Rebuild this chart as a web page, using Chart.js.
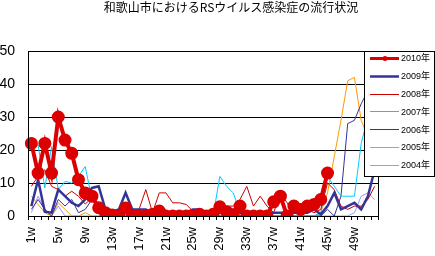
<!DOCTYPE html>
<html>
<head>
<meta charset="utf-8">
<script src="https://cdn.jsdelivr.net/npm/chart.js@4.4.0/dist/chart.umd.min.js"></script>
<style>
  html, body { margin: 0; padding: 0; background: #fff; }
  #wrap { width: 435px; height: 256px; }
</style>
</head>
<body>
<div id="wrap"><canvas id="rsChart" width="435" height="256"></canvas></div>
<script>
"use strict";

// week labels 1w .. 52w
const weeks = Array.from({ length: 52 }, (_, i) => `${i + 1}w`);

const y2010 = [22, 13, 22, 13, 30, 23, 19, 11, 7, 6, 2.5, 1, 0.3, 0, 2.4, 0,
  0, 0, 0.5, 1.5, 0, 0, 0, 0, 0, 0.5, 0, 0.5, 2.8, 1.3, 0.3, 3, 0, 0, 0, 0,
  4.3, 6, 0, 3, 2, 3, 3.5, 5, 13, null, null, null, null, null, null, null];
const y2009 = [3, 11, 1.3, 1, 8, 6, 4, 3, 5, 8.5, 9, 2, 1.3, 2, 7, 2,
  2, 2, 1, 1, 1, 1, 1, 1, 2, 2, 1, 1, 1, 1, 2, 1, 1, 1, 1, 1,
  1, 1, 1, 1, 1, 1, 2, 0.5, 3, 7, 2, 3, 4, 2, 6, 14];
const y2008 = [9, 12, 14, 9, 8, 6, 7.5, 6, 3.6, 5.5, 3, 1.3, 0, 0, 0, 1,
  2, 8, 1, 7, 7, 4, 4, 3.5, 1.5, 0.5, 0, 2, 3, 3, 3, 5, 9, 3, 6, 3,
  1, 7, 4, 1, 1, 2, 1, 2, 10, 8, 3, 2, 3, 3, 5, 9];
const y2007 = [22, 21.5, 8.5, 21, 8, 10.5, 10, 12, 15, 5, 4, 1, 1, 0, 1, 0,
  0, 0, 0, 0, 0, 0, 0, 0, 0, 0, 0, 0, 12, 9, 7, 1, 0, 0, 0, 0,
  0, 0, 0, 0, 0, 0, 0, 1, 12, 9, 6, 6, 6, 22, 30, 32];
const y2006 = [2, 5, 2, 0, 5, 3, 5, 1, 2, 5, 2, 0, 0, 0, 1, 0,
  0, 0, 0, 0, 0, 0, 0, 0, 1, 0, 0, 0, 0, 0, 0, 0, 0, 0, 0, 0,
  0, 0, 0, 0, 0, 0, 0, 0, 2, 0, 6, 28, 29, 34, 38, 40];
const y2005 = [6, 3.5, 1, 0, 4, 2, 0, 0, 1, 0, 0, 0, 0, 0, 0, 0,
  0, 0, 0, 0, 0, 0, 0, 0, 0, 0, 0, 0, 0, 0, 0, 0, 0, 0, 0, 0,
  0, 0, 0, 0, 0, 0, 0, 1, 7, 18, 29, 41, 42, 29, 24, 20];
const y2004 = [1, 6, 2, 0, 3, 0, 0, 0, 0, 0, 0, 0, 0, 0, 0, 0,
  0, 0, 0, 0, 0, 0, 0, 0, 0, 0, 0, 0, 0, 0, 0, 0, 0, 0, 0, 0,
  0, 0, 0, 0, 0, 0, 0, 0, 0, 0, 0, 0, 1, 6, 7, 5];

const seriesNames = ["2010年", "2009年", "2008年", "2007年", "2006年", "2005年", "2004年"];
const seriesData = [y2010, y2009, y2008, y2007, y2006, y2005, y2004];
const seriesColors = ["#dd0000", "#333399", "#cc0000", "#00ccff", "#333399", "#ff9900", "#9999ff"];
const seriesWidths = [4, 2.5, 1, 1, 1, 1, 1];

const chartTitle = "和歌山市におけるRSウイルス感染症の流行状況";
const jpFont = "'Liberation Sans', 'Noto Sans CJK JP', sans-serif";

// title, plot frame and legend drawn by hand, like the excel original
const frameAndLegend = {
  id: "frameAndLegend",
  afterDatasetsDraw(chart) {
    const { ctx, chartArea: a } = chart;
    ctx.save();
    ctx.strokeStyle = "#000";
    ctx.lineWidth = 1;
    ctx.strokeRect(Math.round(a.left) + 0.5, Math.round(a.top) + 0.5,
      Math.round(a.right - a.left), Math.round(a.bottom - a.top));
    ctx.restore();
  },
  afterDraw(chart) {
    const ctx = chart.ctx;
    ctx.save();
    // title
    ctx.fillStyle = "#000";
    ctx.font = "12px 'Noto Sans CJK JP', sans-serif";
    ctx.textAlign = "center";
    ctx.textBaseline = "middle";
    ctx.fillText(chartTitle, 231, 7);

    // legend
    const bx = 364, by = 51, bw = 70, bh = 125;
    ctx.fillStyle = "#fff";
    ctx.fillRect(bx, by, bw, bh);
    ctx.strokeStyle = "#000";
    ctx.lineWidth = 1;
    ctx.strokeRect(bx + 0.5, by + 0.5, bw, bh);
    chart.data.datasets.forEach((ds, i) => {
      const ly = 58 + i * 17.8;
      ctx.strokeStyle = ds.borderColor;
      ctx.lineWidth = i === 0 ? 3 : Math.max(1, ds.borderWidth);
      ctx.beginPath();
      ctx.moveTo(370, Math.round(ly) + 0.5);
      ctx.lineTo(399, Math.round(ly) + 0.5);
      ctx.stroke();
      if (i === 0) {
        ctx.fillStyle = ds.borderColor;
        ctx.beginPath();
        ctx.arc(385, Math.round(ly) + 0.5, 2.5, 0, Math.PI * 2);
        ctx.fill();
      }
      ctx.fillStyle = "#000";
      ctx.font = "9px " + jpFont;
      ctx.textBaseline = "middle";
      ctx.textAlign = "left";
      ctx.fillText(ds.label, 401, ly + 1);
    });
    ctx.restore();
  },
};

const datasets = seriesNames.map((name, i) => ({
  label: name,
  data: seriesData[i],
  borderColor: seriesColors[i],
  backgroundColor: seriesColors[i],
  borderWidth: seriesWidths[i],
  pointRadius: i === 0 ? 4.5 : 0,
  pointHoverRadius: 0,
  pointStyle: "circle",
  tension: 0,
  fill: false,
}));

new Chart(document.getElementById("rsChart"), {
  type: "line",
  data: { labels: weeks, datasets: datasets },
  options: {
    responsive: false,
    animation: false,
    layout: { padding: { top: 51, right: 57, left: 0, bottom: 0 } },
    plugins: {
      legend: { display: false },
      tooltip: { enabled: false },
      title: { display: false },
    },
    scales: {
      x: {
        offset: true,
        grid: {
          offset: true,
          drawOnChartArea: false,
          drawTicks: true,
          tickLength: 4,
          color: "#000",
        },
        border: { color: "#000" },
        ticks: {
          autoSkip: false,
          minRotation: 90,
          maxRotation: 90,
          padding: 7,
          color: "#000",
          font: { family: jpFont, size: 13 },
          callback: function (value, index) {
            return index % 4 === 0 ? this.getLabelForValue(value) : "";
          },
        },
        afterFit: (scale) => { scale.height = 40; },
      },
      y: {
        min: 0,
        max: 50,
        ticks: {
          stepSize: 10,
          padding: 13,
          color: "#000",
          font: { family: jpFont, size: 14 },
        },
        grid: { color: "#000", drawTicks: false, lineWidth: 1 },
        border: { color: "#000" },
        afterFit: (scale) => { scale.width = 28; },
      },
    },
  },
  plugins: [frameAndLegend],
});
</script>
</body>
</html>
